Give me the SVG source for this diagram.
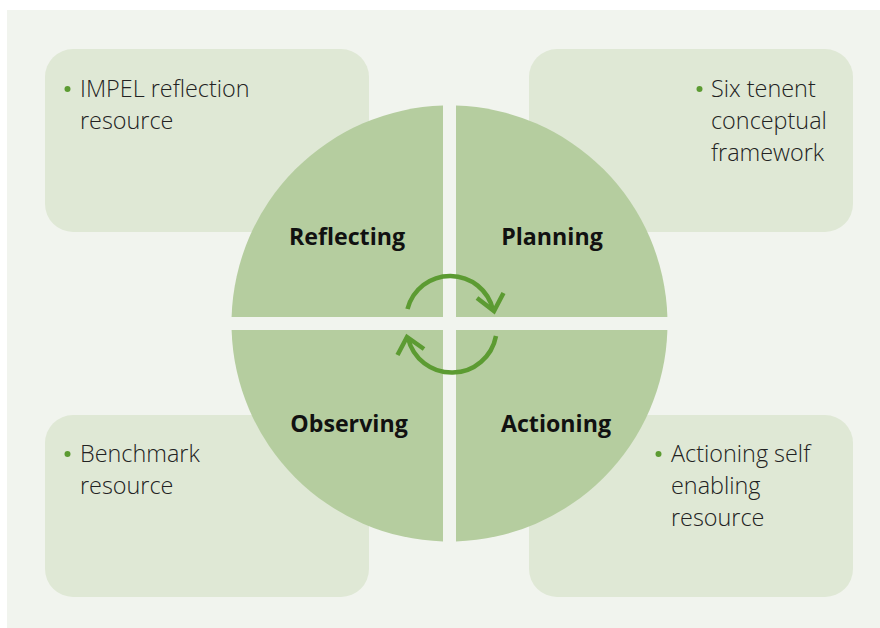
<svg xmlns="http://www.w3.org/2000/svg" width="880" height="628" viewBox="0 0 880 628">
<style>
.bg{fill:#f1f4ee}
.box{fill:#dfe8d5}
.q{fill:#b5cd9f}
.t{font-family:"Open Sans","Noto Sans","Liberation Sans",sans-serif;font-weight:300;font-size:23.4px;fill:#222}
.b{font-family:"Open Sans","Noto Sans","Liberation Sans",sans-serif;font-weight:700;font-size:23.2px;fill:#111;text-anchor:middle}
.dot{fill:#5c9b32}
.arc{fill:none;stroke:#5c9b32;stroke-width:4.5}
</style>
<rect class="bg" x="7" y="10" width="873" height="618"/>
<g id="box-reflection">
<rect class="box" x="45" y="49" width="324" height="183" rx="28"/>
<circle class="dot" cx="67.5" cy="89" r="3"/>
<text class="t" x="80" y="97">IMPEL reflection</text>
<text class="t" x="80" y="129">resource</text>
</g>
<g id="box-framework">
<rect class="box" x="529" y="49" width="324" height="183" rx="28"/>
<circle class="dot" cx="699.5" cy="89" r="3"/>
<text class="t" x="711" y="97">Six tenent</text>
<text class="t" x="711" y="129">conceptual</text>
<text class="t" x="711" y="161">framework</text>
</g>
<g id="box-benchmark">
<rect class="box" x="45" y="415" width="324" height="182" rx="28"/>
<circle class="dot" cx="67.5" cy="454" r="3"/>
<text class="t" x="80" y="462">Benchmark</text>
<text class="t" x="80" y="494">resource</text>
</g>
<g id="box-actioning">
<rect class="box" x="529" y="415" width="324" height="182" rx="28"/>
<circle class="dot" cx="658.5" cy="454" r="3"/>
<text class="t" x="671" y="462">Actioning self</text>
<text class="t" x="671" y="494">enabling</text>
<text class="t" x="671" y="526">resource</text>
</g>
<g id="reflecting">
<path class="q" d="M443 317 V105.6 A218 218 0 0 0 231.6 317 Z"/>
<text class="b" x="347" y="245">Reflecting</text>
</g>
<g id="planning">
<path class="q" d="M456 317 H667.4 A218 218 0 0 0 456 105.6 Z"/>
<text class="b" x="552" y="245">Planning</text>
</g>
<g id="observing">
<path class="q" d="M443 330 H231.6 A218 218 0 0 0 443 541.4 Z"/>
<text class="b" x="349" y="432">Observing</text>
</g>
<g id="actioning">
<path class="q" d="M456 330 V541.4 A218 218 0 0 0 667.4 330 Z"/>
<text class="b" x="556" y="432">Actioning</text>
</g>
<g id="connectors">
<path class="arc" d="M407.5 309 A44 44 0 0 1 493 310"/>
<path class="arc" d="M477 298 L494 311 L503.5 293"/>
<path class="arc" d="M496 336 A45 45 0 0 1 408 338"/>
<path class="arc" d="M424 349 L407 337 L397.5 355"/>
</g>
</svg>
